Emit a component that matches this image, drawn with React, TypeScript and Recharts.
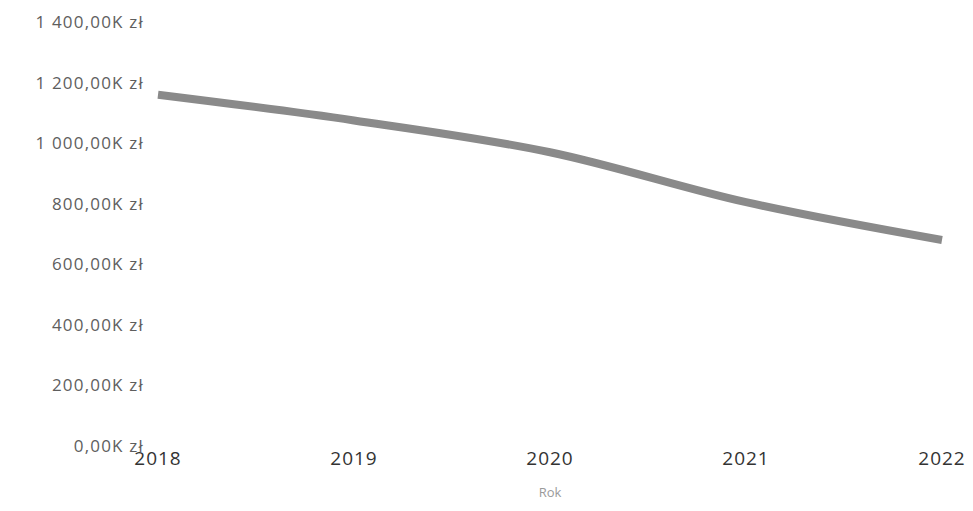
import React from 'react';
import { LineChart, Line, XAxis, YAxis } from 'recharts';

// Lata i wartości (w tys. zł)
const years = ['2018', '2019', '2020', '2021', '2022'];
const values = [1160, 1075, 970, 805, 680];
const yTicks = [0, 200, 400, 600, 800, 1000, 1200, 1400];

const chartData = years.map((rok, i) => ({ rok, wartosc: values[i] }));

const formatPln = (v: number) => {
    const grouped = String(v).replace(/\B(?=(\d{3})+(?!\d))/g, ' ');
    return `${grouped},00K zł`;
};

const FONT = '"Open Sans", "DejaVu Sans", sans-serif';

export default function App() {
    return (
        <div style={{ width: 973, height: 511, background: '#fff' }}>
            <style>{'body { margin: 0; }'}</style>
            <LineChart
                width={973}
                height={511}
                data={chartData}
                margin={{ top: 22, right: 31, bottom: 0, left: 0 }}
            >
                <XAxis
                    dataKey="rok"
                    axisLine={false}
                    tickLine={false}
                    tickMargin={0}
                    height={65}
                    tick={{ fill: '#333', fontSize: 19, fontFamily: FONT, letterSpacing: 1 }}
                    label={{
                        value: 'Rok',
                        position: 'insideBottom',
                        offset: 14,
                        fill: '#9a9a9a',
                        fontSize: 13,
                        fontFamily: FONT,
                    }}
                />
                <YAxis
                    domain={[0, 1400]}
                    ticks={yTicks}
                    width={158}
                    axisLine={false}
                    tickLine={false}
                    tickMargin={8}
                    tickFormatter={formatPln}
                    tick={{ fill: '#5e5e5e', fontSize: 17, fontFamily: FONT, letterSpacing: 1.2 }}
                />
                <Line
                    type="monotone"
                    dataKey="wartosc"
                    stroke="#8a8a8a"
                    strokeWidth={8}
                    dot={false}
                    isAnimationActive={false}
                />
            </LineChart>
        </div>
    );
}
